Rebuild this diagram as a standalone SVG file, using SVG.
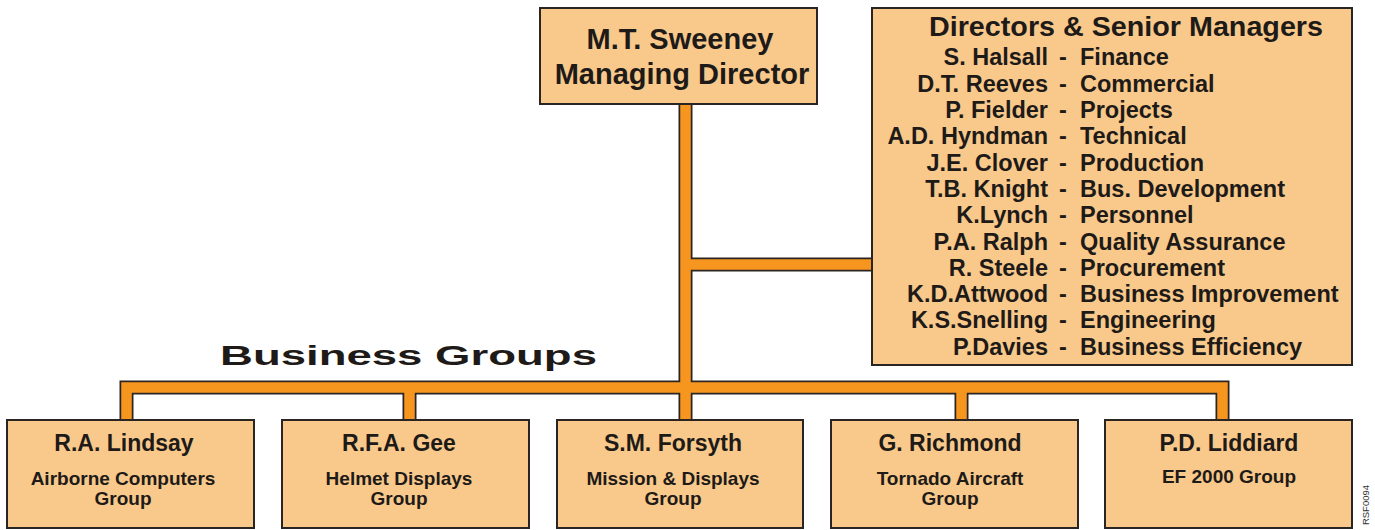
<svg xmlns="http://www.w3.org/2000/svg" width="1375" height="530" viewBox="0 0 1375 530">
<style>
.box{fill:#F8C98B;stroke:#2a2522;stroke-width:2}
.t{font-family:"Liberation Sans",Arial,sans-serif;font-weight:bold;fill:#1e1a18}
.c{text-anchor:middle}
.e{text-anchor:end}
.big{font-size:29px}
.ttl{font-size:27.5px}
.row{font-size:23.5px}
.nm{font-size:23px}
.sub{font-size:19px}
.out{fill:none;stroke:#2a2522;stroke-width:14;stroke-linejoin:miter;stroke-linecap:butt}
.in{fill:none;stroke:#F7961F;stroke-width:10.5;stroke-linejoin:miter;stroke-linecap:butt}
</style>
<rect width="1375" height="530" fill="#ffffff"/>
<g id="connectors">
<g class="out">
<path d="M685.5,104 V420"/>
<path d="M685.5,264.5 H872"/>
<path d="M126.5,420 V387.5 H1222.5 V420"/>
<path d="M409.5,387.5 V420"/>
<path d="M961.5,387.5 V420"/>
</g>
<g class="in">
<path d="M685.5,104 V420"/>
<path d="M685.5,264.5 H872"/>
<path d="M126.5,420 V387.5 H1222.5 V420"/>
<path d="M409.5,387.5 V420"/>
<path d="M961.5,387.5 V420"/>
</g>
</g>
<g id="md">
<rect class="box" x="540" y="8" width="277" height="96"/>
<text class="t c big" x="680" y="49">M.T. Sweeney</text>
<text class="t c big" x="682" y="84">Managing Director</text>
</g>
<g id="directors">
<rect class="box" x="872" y="8" width="480" height="357"/>
<text class="t c ttl" x="1126" y="36" textLength="394" lengthAdjust="spacingAndGlyphs">Directors &amp; Senior Managers</text>
<g class="t row">
<text y="65"><tspan x="1048" text-anchor="end">S. Halsall</tspan><tspan x="1059">-</tspan><tspan x="1080">Finance</tspan></text>
<text y="91.5"><tspan x="1048" text-anchor="end">D.T. Reeves</tspan><tspan x="1059">-</tspan><tspan x="1080">Commercial</tspan></text>
<text y="118"><tspan x="1048" text-anchor="end">P. Fielder</tspan><tspan x="1059">-</tspan><tspan x="1080">Projects</tspan></text>
<text y="144"><tspan x="1048" text-anchor="end">A.D. Hyndman</tspan><tspan x="1059">-</tspan><tspan x="1080">Technical</tspan></text>
<text y="170.5"><tspan x="1048" text-anchor="end">J.E. Clover</tspan><tspan x="1059">-</tspan><tspan x="1080">Production</tspan></text>
<text y="197"><tspan x="1048" text-anchor="end">T.B. Knight</tspan><tspan x="1059">-</tspan><tspan x="1080">Bus. Development</tspan></text>
<text y="223"><tspan x="1048" text-anchor="end">K.Lynch</tspan><tspan x="1059">-</tspan><tspan x="1080">Personnel</tspan></text>
<text y="249.5"><tspan x="1048" text-anchor="end">P.A. Ralph</tspan><tspan x="1059">-</tspan><tspan x="1080">Quality Assurance</tspan></text>
<text y="275.5"><tspan x="1048" text-anchor="end">R. Steele</tspan><tspan x="1059">-</tspan><tspan x="1080">Procurement</tspan></text>
<text y="302"><tspan x="1048" text-anchor="end">K.D.Attwood</tspan><tspan x="1059">-</tspan><tspan x="1080">Business Improvement</tspan></text>
<text y="328"><tspan x="1048" text-anchor="end">K.S.Snelling</tspan><tspan x="1059">-</tspan><tspan x="1080">Engineering</tspan></text>
<text y="354.5"><tspan x="1048" text-anchor="end">P.Davies</tspan><tspan x="1059">-</tspan><tspan x="1080">Business Efficiency</tspan></text>
</g>
</g>
<text class="t" x="220" y="365" font-size="28" textLength="377" lengthAdjust="spacingAndGlyphs">Business Groups</text>
<g id="lindsay">
<rect class="box" x="7" y="420" width="247" height="108"/>
<text class="t c nm" x="124" y="451">R.A. Lindsay</text>
<text class="t c sub" x="123" y="485">Airborne Computers</text>
<text class="t c sub" x="123" y="505">Group</text>
</g>
<g id="gee">
<rect class="box" x="282" y="420" width="247" height="108"/>
<text class="t c nm" x="399" y="451">R.F.A. Gee</text>
<text class="t c sub" x="399" y="485">Helmet Displays</text>
<text class="t c sub" x="399" y="505">Group</text>
</g>
<g id="forsyth">
<rect class="box" x="557" y="420" width="246" height="108"/>
<text class="t c nm" x="673" y="451">S.M. Forsyth</text>
<text class="t c sub" x="673" y="485">Mission &amp; Displays</text>
<text class="t c sub" x="673" y="505">Group</text>
</g>
<g id="richmond">
<rect class="box" x="831" y="420" width="247" height="108"/>
<text class="t c nm" x="950" y="451">G. Richmond</text>
<text class="t c sub" x="950" y="485">Tornado Aircraft</text>
<text class="t c sub" x="950" y="505">Group</text>
</g>
<g id="liddiard">
<rect class="box" x="1105" y="420" width="247" height="108"/>
<text class="t c nm" x="1229" y="451">P.D. Liddiard</text>
<text class="t c sub" x="1229" y="483">EF 2000 Group</text>
</g>
<text x="1369" y="505" font-family="Liberation Sans, Arial, sans-serif" font-size="9.5" fill="#333" text-anchor="middle" transform="rotate(-90 1369 505)">RSF0094</text>
</svg>
